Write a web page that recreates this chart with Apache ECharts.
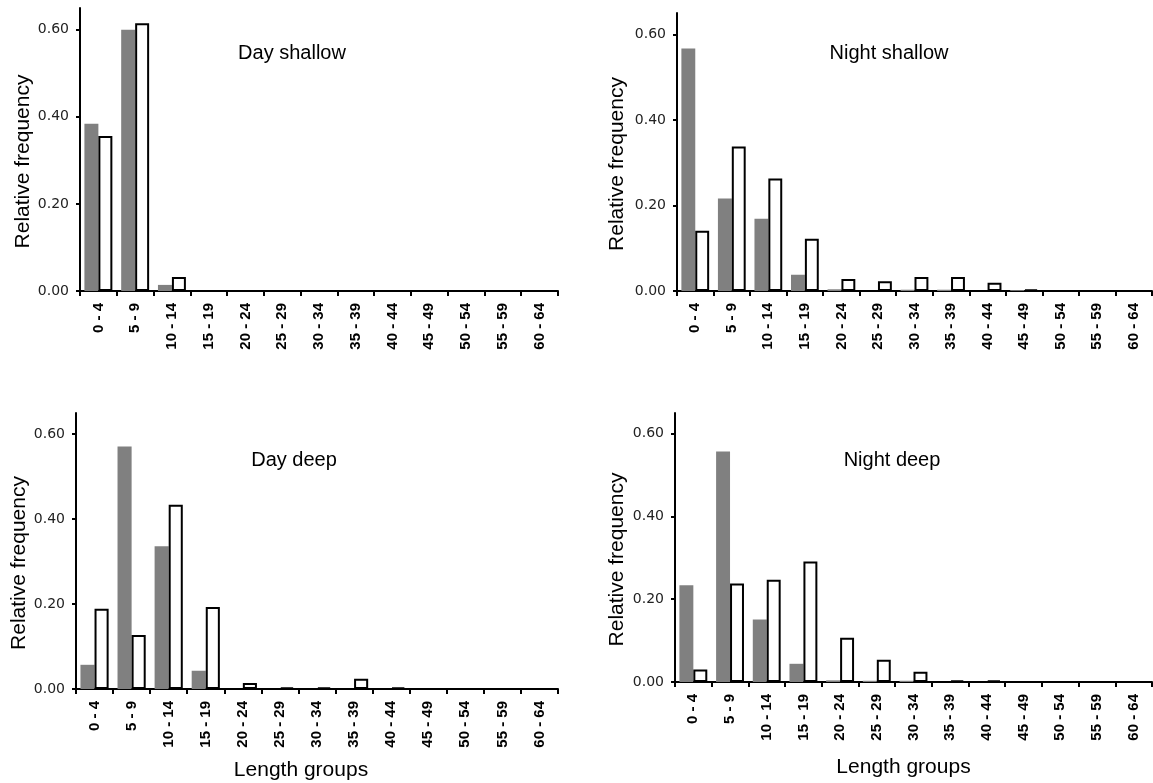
<!DOCTYPE html>
<html>
<head>
<meta charset="utf-8">
<title>Relative frequency by length group</title>
<script src="https://cdn.jsdelivr.net/npm/echarts@6/dist/echarts.min.js"></script>
<style>
  html, body { margin: 0; padding: 0; background: #fff; }
  #chart { width: 1153px; height: 783px; }
</style>
</head>
<body>
<div id="chart"></div>
<script>
// Length classes on the category axis
const categories = ['0 - 4', '5 - 9', '10 - 14', '15 - 19', '20 - 24', '25 - 29', '30 - 34',
  '35 - 39', '40 - 44', '45 - 49', '50 - 54', '55 - 59', '60 - 64'];

// Value-axis ticks
const yTicks = [0, 0.2, 0.4, 0.6];

const panelTitles = ['Day shallow', 'Night shallow', 'Day deep', 'Night deep'];

// Filled (grey) and open (white) bars per panel
const dayShallowFilled   = [0.384, 0.600, 0.014, 0, 0, 0, 0, 0, 0, 0, 0, 0, 0];
const dayShallowOpen     = [0.356, 0.615, 0.032, 0, 0, 0, 0, 0, 0, 0, 0, 0, 0];
const nightShallowFilled = [0.567, 0.216, 0.169, 0.038, 0.004, 0, 0.003, 0.003, 0, 0.002, 0, 0, 0];
const nightShallowOpen   = [0.141, 0.338, 0.263, 0.122, 0.028, 0.023, 0.033, 0.033, 0.019, 0.004, 0, 0, 0];
const dayDeepFilled      = [0.057, 0.571, 0.336, 0.043, 0, 0, 0, 0, 0, 0, 0, 0, 0];
const dayDeepOpen        = [0.189, 0.127, 0.434, 0.193, 0.014, 0.004, 0.004, 0.024, 0.004, 0, 0, 0, 0];
const nightDeepFilled    = [0.234, 0.557, 0.151, 0.044, 0.004, 0.003, 0.003, 0, 0, 0, 0, 0, 0];
const nightDeepOpen      = [0.030, 0.238, 0.247, 0.291, 0.107, 0.054, 0.025, 0.004, 0.004, 0, 0, 0, 0];

const filledSets = [dayShallowFilled, nightShallowFilled, dayDeepFilled, nightDeepFilled];
const openSets = [dayShallowOpen, nightShallowOpen, dayDeepOpen, nightDeepOpen];

// Panel geometry (pixels)
const grids = [
  { left: 80,  top: 8,   width: 478, height: 283 },
  { left: 677, top: 13,  width: 475, height: 278 },
  { left: 76,  top: 413, width: 482, height: 276 },
  { left: 675, top: 413, width: 477, height: 269 }
];
const titlePos = [[292, 43], [889, 43], [294, 450], [892, 450]];
const yNameGap = [45, 49, 43, 47];

const axisLineStyle = { color: '#000', width: 2 };

const option = {
  animation: false,
  backgroundColor: '#fff',
  title: panelTitles.map((t, i) => ({
    text: t,
    left: titlePos[i][0],
    top: titlePos[i][1],
    textAlign: 'center',
    padding: 0,
    textStyle: { fontFamily: 'Liberation Sans, Arial, sans-serif', fontSize: 20, fontWeight: 'normal', color: '#000' }
  })),
  grid: grids.map(g => Object.assign({ containLabel: false }, g)),
  xAxis: grids.map((g, i) => ({
    type: 'category',
    gridIndex: i,
    data: categories,
    boundaryGap: true,
    name: i >= 2 ? 'Length groups' : '',
    nameLocation: 'middle',
    nameGap: i === 2 ? 71 : 75,
    nameTextStyle: {
      fontFamily: 'Liberation Sans, Arial, sans-serif', fontSize: 21, color: '#000',
      padding: i === 2 ? [0, 32, 0, 0] : [0, 20, 0, 0]
    },
    axisLine: { show: true, lineStyle: axisLineStyle },
    axisTick: { show: true, alignWithLabel: false, length: 5, lineStyle: { color: '#000', width: 2 } },
    axisLabel: {
      interval: 0, rotate: 90, margin: 12,
      fontFamily: 'Liberation Sans, Arial, sans-serif', fontSize: 15, fontWeight: 'bold', color: '#000'
    },
    splitLine: { show: false }
  })),
  yAxis: grids.map((g, i) => ({
    type: 'value',
    gridIndex: i,
    min: 0,
    max: 0.65,
    name: 'Relative frequency',
    nameLocation: 'middle',
    nameGap: yNameGap[i],
    nameTextStyle: {
      fontFamily: 'Liberation Sans, Arial, sans-serif', fontSize: 21, color: '#000',
      padding: [0, 24, 0, 0]
    },
    axisLine: { show: true, lineStyle: axisLineStyle },
    axisTick: { show: true, length: 4, customValues: yTicks, lineStyle: { color: '#000', width: 2 } },
    axisLabel: {
      customValues: yTicks, margin: 11,
      formatter: v => v.toFixed(2),
      fontFamily: 'DejaVu Sans, sans-serif', fontSize: 14, color: '#222'
    },
    splitLine: { show: false }
  })),
  series: []
};

grids.forEach((g, i) => {
  option.series.push({
    type: 'bar',
    xAxisIndex: i, yAxisIndex: i,
    data: filledSets[i],
    barGap: '0%',
    barCategoryGap: '24%',
    itemStyle: { color: '#808080', borderWidth: 0 }
  });
  option.series.push({
    type: 'bar',
    xAxisIndex: i, yAxisIndex: i,
    data: openSets[i],
    barGap: '0%',
    barCategoryGap: '24%',
    itemStyle: { color: '#fff', borderColor: '#000', borderWidth: 2 }
  });
});

const chart = echarts.init(document.getElementById('chart'), null, { renderer: 'canvas' });
chart.setOption(option);
</script>
</body>
</html>
